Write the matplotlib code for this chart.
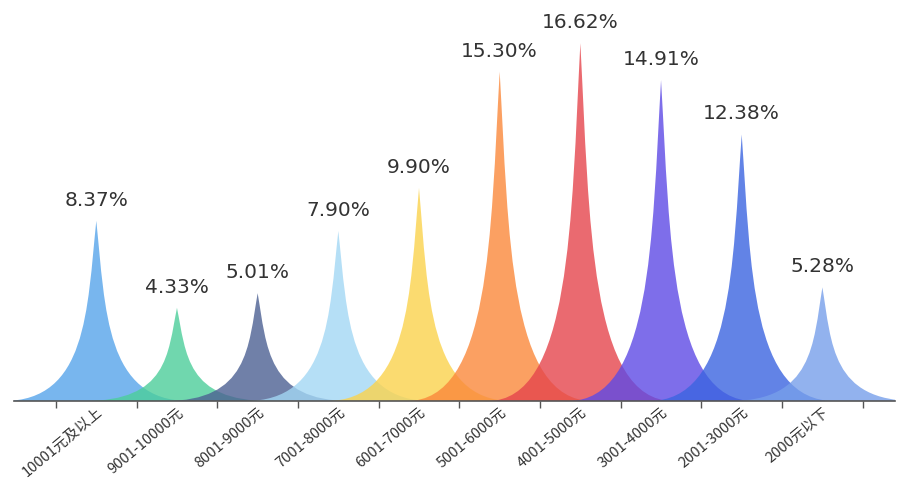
import matplotlib
matplotlib.use("Agg")
import matplotlib.pyplot as plt
from matplotlib.path import Path
from matplotlib.patches import PathPatch
import matplotlib.colors as mcolors

categories = ["10001元及以上", "9001-10000元", "8001-9000元", "7001-8000元", "6001-7000元",
              "5001-6000元", "4001-5000元", "3001-4000元", "2001-3000元", "2000元以下"]
values = [8.37, 4.33, 5.01, 7.90, 9.90, 15.30, 16.62, 14.91, 12.38, 5.28]
labels = ["8.37%", "4.33%", "5.01%", "7.90%", "9.90%", "15.30%", "16.62%", "14.91%", "12.38%", "5.28%"]
apparent_colors = ["#78b6ee", "#70d8ae", "#7080a8", "#b5dff6", "#fcdc70",
                   "#fba062", "#ea6a70", "#7e6eea", "#6283e6", "#92b2ee"]

ALPHA = 0.8

def base_color(hexc, a=ALPHA):
    r, g, b = mcolors.to_rgb(hexc)
    f = lambda c: min(1.0, max(0.0, (c - (1 - a)) / a))
    return (f(r), f(g), f(b))

plt.rcParams['font.family'] = ['Noto Sans CJK SC', 'DejaVu Sans']

fig = plt.figure(figsize=(8.97, 4.84), dpi=100)
ax = fig.add_axes([14/897, 83/484, 881/897, 381/484])
ax.set_xlim(-1.02, 9.9)
ax.set_ylim(0, 17.7)

W = 2.3  # spike base width in category units
for i, (v, c) in enumerate(zip(values, apparent_colors)):
    x = i
    verts = [
        (x - W/2, 0), (x + W/2, 0),
        (x + 0.05*W, 0), (x + 0.05*W, v/2), (x, v),
        (x - 0.05*W, v/2), (x - 0.05*W, 0), (x - W/2, 0),
        (x - W/2, 0),
    ]
    codes = [Path.MOVETO, Path.LINETO,
             Path.CURVE4, Path.CURVE4, Path.CURVE4,
             Path.CURVE4, Path.CURVE4, Path.CURVE4,
             Path.CLOSEPOLY]
    patch = PathPatch(Path(verts, codes), facecolor=base_color(c), edgecolor='none',
                      alpha=ALPHA, zorder=2)
    ax.add_patch(patch)
    ax.annotate(labels[i], xy=(x, v), xytext=(0, 8), textcoords='offset points',
                ha='center', va='bottom', fontsize=14.5, color='#333333',
                family=['DejaVu Sans'])

for s in ['top', 'right', 'left']:
    ax.spines[s].set_visible(False)
ax.spines['bottom'].set_color('#555555')
ax.spines['bottom'].set_linewidth(1.2)
ax.spines['bottom'].set_zorder(3)
ax.set_yticks([])

ax.set_xticks([i - 0.5 for i in range(len(categories) + 1)], minor=False)
ax.set_xticklabels([])
ax.tick_params(axis='x', which='major', length=5, color='#555555', width=1)
ax.set_xticks(range(len(categories)), minor=True)
ax.set_xticklabels(categories, minor=True, rotation=40, ha='right', va='top',
                   rotation_mode='anchor', fontsize=10.5, color='#333333')
ax.tick_params(axis='x', which='minor', length=0, pad=3)

fig.savefig("out.png", dpi=100, facecolor='white')
